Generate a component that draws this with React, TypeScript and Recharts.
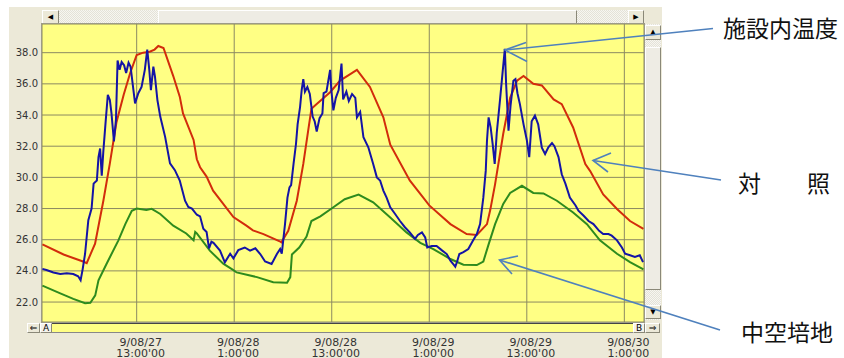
import React from 'react';
import { LineChart, Line, XAxis, YAxis, CartesianGrid } from 'recharts';

// hours counted from 9/08/27 0:00
const insideHours = [
  1.4, 1.9, 2.75, 3.6, 4.4, 5.2, 5.8, 6.1, 6.35, 6.65, 7.05, 7.45, 7.7, 8.1, 8.3, 8.5, 8.7, 8.9, 9.2, 9.45,
  9.7, 9.9, 10.2, 10.45, 10.65, 10.9, 11.15, 11.45, 11.7, 12.0, 12.25, 12.6, 12.8, 13.2, 13.6, 14.0, 14.3, 14.55, 14.75, 15.05,
  15.25, 15.55, 15.9, 16.5, 17.1, 17.7, 18.3, 18.95, 19.35, 19.8, 20.4, 20.8, 21.2, 21.6, 21.9, 22.2, 22.45, 23.25, 23.85, 24.5,
  24.9, 25.5, 26.3, 26.95, 27.6, 28.2, 28.8, 29.6, 30.25, 30.65, 30.85, 31.25, 31.55, 31.8, 32.0, 32.3, 32.6, 32.8, 33.1, 33.3,
  33.5, 33.7, 34.0, 34.3, 34.65, 34.9, 35.15, 35.5, 35.85, 36.0, 36.35, 36.8, 36.95, 37.2, 37.5, 37.85, 38.2, 38.4, 38.8, 39.1,
  39.5, 39.9, 40.1, 40.5, 40.9, 41.5, 42.1, 42.55, 42.95, 43.35, 43.75, 44.2, 44.8, 45.4, 46.0, 46.6, 47.25, 47.6, 48.1, 48.5,
  48.75, 49.3, 49.9, 50.6, 51.15, 51.6, 52.0, 52.2, 52.4, 52.7, 53.2, 53.8, 54.4, 54.85, 55.25, 55.65, 55.95, 56.1, 56.3, 56.55,
  56.8, 57.05, 57.3, 57.7, 58.05, 58.3, 58.45, 58.75, 59.0, 59.35, 59.6, 59.85, 60.15, 60.6, 61.0, 61.3, 61.6, 62.0, 62.4, 62.85,
  63.25, 63.65, 64.1, 64.4, 64.9, 65.3, 65.75, 66.3, 67.0, 67.35, 68.0, 68.6, 69.2, 69.9, 70.4, 71.05, 71.45, 72.1, 72.7, 73.1,
  73.7, 74.3, 74.9, 75.3,
];
const insideTemps = [
  24.13, 24.06, 23.9, 23.8, 23.85, 23.8, 23.65, 23.4, 24.1, 25.1, 27.25, 28.0, 29.6, 29.8, 31.3, 31.85, 30.1, 31.7, 33.7, 35.3,
  34.96, 34.1, 32.3, 33.7, 37.5, 36.9, 37.4, 37.2, 36.7, 37.36, 37.1, 35.6, 34.75, 35.4, 35.8, 36.9, 38.2, 36.9, 35.6, 37.1,
  36.46, 34.96, 33.9, 32.6, 30.9, 30.46, 29.8, 28.5, 28.1, 28.0, 27.6, 27.5, 26.7, 26.5, 25.44, 25.87, 25.8, 25.3, 24.55, 25.1,
  24.8, 25.33, 25.5, 25.3, 25.45, 25.08, 24.6, 24.44, 25.08, 25.4, 25.1, 27.0, 28.7, 29.36, 29.5, 30.86, 32.14, 33.4, 34.5, 35.6,
  36.3, 35.5, 35.8, 35.35, 33.9, 33.6, 32.94, 33.8, 34.1, 35.4, 35.5, 36.9, 35.6, 34.3, 35.1, 35.6, 37.3, 35.0, 35.5, 34.9,
  35.35, 35.1, 33.85, 34.2, 32.57, 31.93, 30.86, 30.0, 29.8, 29.15, 28.7, 28.08, 27.65, 27.2, 26.8, 26.47, 26.05, 26.3, 26.47, 26.15,
  25.5, 25.6, 25.6, 25.3, 25.08, 24.65, 24.4, 24.27, 24.55, 25.08, 25.2, 25.4, 25.96, 26.36, 27.0, 28.7, 30.43, 32.35, 33.85, 33.2,
  32.14, 30.86, 32.83, 34.96, 36.9, 38.25, 36.04, 33.0, 34.6, 36.2, 36.3, 35.4, 34.7, 33.4, 32.4, 31.3, 33.6, 33.96, 33.4, 31.9,
  31.5, 31.93, 32.2, 32.0, 31.3, 30.2, 29.6, 28.7, 28.2, 27.86, 27.54, 27.2, 27.0, 26.57, 26.36, 26.36, 26.26, 25.96, 25.5, 25.1,
  25.0, 24.9, 25.0, 24.56,
];

const controlHours = [
  1.4, 4.0, 6.4, 6.85, 7.88, 8.9, 9.7, 10.5, 11.4, 12.2, 13.0, 13.8, 14.6, 15.2, 15.66, 16.3, 17.5, 18.3, 18.7, 20.0,
  20.4, 20.8, 21.6, 22.4, 24.9, 26.5, 27.3, 28.6, 30.6, 30.8, 31.65, 32.7, 33.5, 34.1, 34.5, 35.15, 36.8, 38.0, 38.6, 40.1,
  41.7, 43.35, 44.2, 46.6, 49.0, 51.6, 53.6, 54.85, 56.1, 56.5, 57.1, 58.1, 58.95, 59.8, 60.6, 61.8, 62.85, 64.3, 65.3, 66.7,
  68.2, 68.8, 70.4, 72.1, 73.7, 75.35,
];
const controlTemps = [
  25.7, 25.05, 24.6, 24.5, 25.75, 28.5, 30.9, 33.5, 35.3, 36.7, 37.85, 38.0, 38.06, 38.2, 38.43, 38.3, 36.5, 35.18, 34.1, 32.4,
  31.16, 30.65, 30.05, 29.15, 27.45, 26.9, 26.6, 26.36, 25.9, 25.83, 26.57, 28.5, 30.86, 33.0, 34.4, 34.7, 35.46, 36.2, 36.4, 36.9,
  35.8, 33.85, 32.1, 29.8, 28.2, 27.0, 26.36, 26.3, 27.0, 27.9, 29.57, 32.8, 35.1, 36.2, 36.5, 36.0, 35.9, 35.0, 34.7, 33.2,
  30.86, 30.4, 28.9, 27.97, 27.2, 26.7,
];

const hollowHours = [
  1.4, 3.6, 5.2, 6.65, 7.3, 7.9, 8.3, 9.3, 10.75, 11.6, 12.4, 13.0, 14.2, 14.85, 15.9, 17.5, 19.1, 20.0, 20.2, 20.4,
  22.0, 23.65, 24.9, 25.3, 27.8, 29.8, 31.5, 31.9, 32.1, 33.0, 33.9, 34.5, 35.6, 37.2, 38.6, 40.3, 42.1, 44.2, 46.2, 47.9,
  49.5, 51.6, 53.2, 54.85, 55.65, 56.3, 57.1, 58.1, 58.95, 60.4, 61.8, 63.05, 64.7, 66.7, 68.4, 70.0, 72.1, 73.7, 75.35,
];
const hollowTemps = [
  23.05, 22.56, 22.2, 21.93, 21.95, 22.43, 23.4, 24.46, 25.96, 27.0, 27.86, 28.0, 27.9, 27.98, 27.65, 26.9, 26.4, 25.96, 26.5, 26.4,
  25.3, 24.46, 24.05, 23.9, 23.6, 23.27, 23.24, 23.6, 25.05, 25.5, 26.2, 27.2, 27.5, 28.08, 28.6, 28.9, 28.4, 27.43, 26.47, 25.8,
  25.4, 24.76, 24.4, 24.37, 24.6, 25.7, 27.0, 28.3, 29.0, 29.46, 29.0, 28.97, 28.5, 27.75, 27.0, 25.96, 25.1, 24.56, 24.1,
];

const xTickHours = [13, 25, 37, 49, 61, 73];
const xTickDates = ['9/08/27', '9/08/28', '9/08/28', '9/08/29', '9/08/29', '9/08/30'];
const xTickTimes = ["13:00'00", "1:00'00", "13:00'00", "1:00'00", "13:00'00", "1:00'00"];
const yTicks = [22, 24, 26, 28, 30, 32, 34, 36, 38];

const labels = ['施設内温度', '対　　照', '中空培地'];

const toPoints = (hours: number[], temps: number[]) => hours.map((h, i) => ({ h, t: temps[i] }));
const insideData = toPoints(insideHours, insideTemps);
const controlData = toPoints(controlHours, controlTemps);
const hollowData = toPoints(hollowHours, hollowTemps);

const XTick = (props: any) => {
  const { x, y, payload } = props;
  const i = xTickHours.indexOf(payload.value);
  return (
    <text x={x + 4} y={y} textAnchor="middle" fontSize={11} fill="#333" fontFamily="DejaVu Sans">
      <tspan x={x + 4} dy={23.5}>{xTickDates[i]}</tspan>
      <tspan x={x + 4} dy={11.5}>{xTickTimes[i]}</tspan>
    </text>
  );
};

const btn: React.CSSProperties = {
  position: 'absolute',
  background: '#ECE9D8',
  borderTop: '1px solid #fff',
  borderLeft: '1px solid #fff',
  borderRight: '1px solid #8a8878',
  borderBottom: '1px solid #8a8878',
  boxSizing: 'border-box',
  fontSize: 7,
  lineHeight: '12px',
  textAlign: 'center',
  color: '#000',
  fontFamily: 'DejaVu Sans',
};
const dither = 'repeating-conic-gradient(#f7f6f1 0% 25%, #e4e2d8 0% 50%) 0 0 / 2px 2px';

export default function App() {
  return (
    <div style={{ position: 'absolute', left: 0, top: 0, width: 844, height: 358, background: '#fff', overflow: 'hidden' }}>
      <div style={{ position: 'absolute', left: 9, top: 7, width: 653, height: 351, background: '#ECE9D8' }} />

      {/* top scrollbar */}
      <div style={{ position: 'absolute', left: 42, top: 10, width: 602, height: 14, background: dither }} />
      <div style={{ ...btn, left: 158, top: 10, width: 419, height: 14, background: '#EEECE4' }} />
      <div style={{ ...btn, left: 42, top: 10, width: 17, height: 14 }}>◀</div>
      <div style={{ ...btn, left: 628, top: 10, width: 16, height: 14 }}>▶</div>

      {/* right scrollbar */}
      <div style={{ position: 'absolute', left: 645, top: 24, width: 16, height: 296, background: dither }} />
      <div style={{ ...btn, left: 645, top: 47, width: 16, height: 243, background: '#EEECE4' }} />
      <div style={{ ...btn, left: 645, top: 25, width: 16, height: 15 }}>▲</div>
      <div style={{ ...btn, left: 645, top: 305, width: 16, height: 14 }}>▼</div>

      <div style={{ position: 'absolute', left: 0, top: 0 }}>
        <LineChart width={660} height={358} margin={{ top: 24, right: 16, bottom: 0, left: 0 }}>
          <CartesianGrid fill="#FFFF84" stroke="#8C8A62" strokeWidth={1} />
          <XAxis
            dataKey="h"
            type="number"
            domain={[1.35, 75.42]}
            ticks={xTickHours}
            allowDataOverflow
            axisLine={false}
            tickLine={false}
            tickSize={0}
            tickMargin={0}
            height={36}
            tick={<XTick />}
            interval={0}
          />
          <YAxis
            type="number"
            domain={[20.72, 39.84]}
            ticks={yTicks}
            allowDataOverflow
            axisLine={false}
            tickLine={false}
            tickSize={0}
            tickMargin={4}
            width={42}
            interval={0}
            tickFormatter={(v: number) => v.toFixed(1)}
            tick={{ fontSize: 10, fill: '#333', fontFamily: 'DejaVu Sans' }}
          />
          <Line data={hollowData} dataKey="t" type="linear" stroke="#2E8B1E" strokeWidth={2} dot={false} isAnimationActive={false} />
          <Line data={controlData} dataKey="t" type="linear" stroke="#D22C0C" strokeWidth={2} dot={false} isAnimationActive={false} />
          <Line data={insideData} dataKey="t" type="linear" stroke="#1414A6" strokeWidth={2} dot={false} isAnimationActive={false} />
        </LineChart>
      </div>

      {/* plot frame */}
      <div style={{ position: 'absolute', left: 41, top: 23, width: 604, height: 300, boxSizing: 'border-box', border: '1px solid #9C9A88' }} />

      {/* bottom scrollbar */}
      <div style={{ position: 'absolute', left: 52, top: 323, width: 581, height: 10, background: '#FFFF84', borderTop: '1px solid #444', borderBottom: '1px solid #888', boxSizing: 'border-box' }} />
      <div style={{ ...btn, left: 27, top: 323, width: 13, height: 10, lineHeight: '8px', fontSize: 9 }}>⇐</div>
      <div style={{ ...btn, left: 40, top: 323, width: 12, height: 10, lineHeight: '8px', fontSize: 9, background: '#F4F2EA' }}>A</div>
      <div style={{ ...btn, left: 633, top: 323, width: 12, height: 10, lineHeight: '8px', fontSize: 9, background: '#F4F2EA' }}>B</div>
      <div style={{ ...btn, left: 645, top: 323, width: 15, height: 10, lineHeight: '8px', fontSize: 9 }}>⇒</div>

      {/* annotations */}
      <svg width={844} height={358} style={{ position: 'absolute', left: 0, top: 0, pointerEvents: 'none' }}>
        <g stroke="#4F81BD" strokeWidth={1.6} fill="none">
          <line x1={713} y1={28.5} x2={505} y2={50} />
          <polyline points="526,42.5 505,50 527,61.5" />
          <line x1={721} y1={180} x2={593} y2={160.5} />
          <polyline points="611,153 593,160.5 608,172" />
          <line x1={720} y1={330} x2={499.5} y2={260} />
          <polyline points="518,256 499.5,260 512,274" />
        </g>
        <g fontFamily="'Noto Sans CJK JP'" fontSize={23} fill="#111">
          <text x={723} y={37}>{labels[0]}</text>
          <text x={738} y={192}>{labels[1]}</text>
          <text x={741} y={341}>{labels[2]}</text>
        </g>
      </svg>
    </div>
  );
}
